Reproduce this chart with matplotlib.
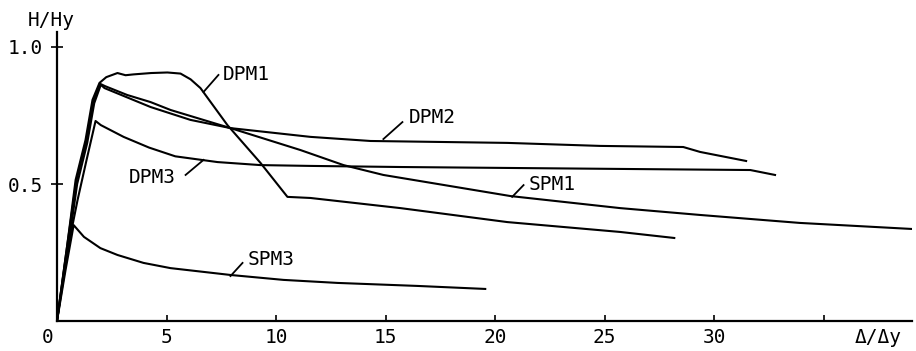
import matplotlib
matplotlib.use("Agg")
import matplotlib.pyplot as plt

# ---- data ----
dpm1_x = [0, 0.44, 0.85, 1.30, 1.62, 1.94, 2.25, 2.76, 3.13, 3.49, 4.30, 5.04, 5.64, 6.10, 6.55, 7.78, 9.29, 10.52, 11.57, 15.68, 20.56, 25.71, 28.18]
dpm1_y = [0, 0.26, 0.515, 0.66, 0.807, 0.869, 0.89, 0.905, 0.897, 0.900, 0.905, 0.907, 0.903, 0.882, 0.850, 0.715, 0.577, 0.453, 0.449, 0.412, 0.361, 0.325, 0.303]

spm1_x = [0, 0.42, 0.88, 1.33, 1.66, 1.96, 2.20, 3.2, 4.27, 5.19, 7.92, 11.11, 13.08, 14.90, 20.70, 25.71, 29.36, 33.90, 39.0]
spm1_y = [0, 0.25, 0.51, 0.655, 0.80, 0.866, 0.857, 0.825, 0.799, 0.770, 0.704, 0.624, 0.569, 0.533, 0.456, 0.412, 0.387, 0.358, 0.336]

dpm2_x = [0, 0.46, 0.92, 1.38, 1.70, 2.00, 2.17, 4.27, 6.09, 7.92, 11.57, 14.31, 20.56, 24.80, 28.59, 29.36, 31.46]
dpm2_y = [0, 0.24, 0.50, 0.65, 0.795, 0.862, 0.850, 0.781, 0.734, 0.704, 0.672, 0.657, 0.650, 0.639, 0.635, 0.617, 0.584]

dpm3_x = [0, 0.39, 0.94, 1.35, 1.76, 2.00, 3.04, 4.20, 5.40, 7.33, 9.29, 11.57, 15.68, 25.70, 31.65, 32.78]
dpm3_y = [0, 0.223, 0.442, 0.588, 0.730, 0.715, 0.672, 0.633, 0.601, 0.580, 0.569, 0.566, 0.562, 0.555, 0.551, 0.533]

spm3_x = [0, 0.39, 0.76, 1.23, 1.98, 2.76, 3.95, 5.18, 7.92, 10.34, 12.80, 16.45, 19.55]
spm3_y = [0, 0.186, 0.350, 0.307, 0.266, 0.241, 0.212, 0.193, 0.168, 0.150, 0.139, 0.128, 0.117]

x_ticks = [5, 10, 15, 20, 25, 30, 35]
x_tick_labels = ["5", "10", "15", "20", "25", "30", ""]
y_ticks = [0.5, 1.0]
y_tick_labels = ["0.5", "1.0"]

FONT = "DejaVu Sans Mono"
FS = 14

fig = plt.figure(figsize=(9.16, 3.51), dpi=100)
ax = fig.add_axes([57 / 916, 30 / 351, (912 - 57) / 916, (321 - 32) / 351])
ax.set_xlim(0, (912 - 56.4) / 21.92)
ax.set_ylim(0, (321 - 32) / 274)

lw = 1.5
for xs, ys in [(dpm1_x, dpm1_y), (spm1_x, spm1_y), (dpm2_x, dpm2_y), (dpm3_x, dpm3_y), (spm3_x, spm3_y)]:
    ax.plot(xs, ys, color="black", lw=lw, solid_joinstyle="round")

for s in ["top", "right"]:
    ax.spines[s].set_visible(False)
for s in ["left", "bottom"]:
    ax.spines[s].set_linewidth(1.6)

ax.set_xticks(x_ticks)
ax.set_xticklabels(x_tick_labels, fontfamily=FONT, fontsize=FS)
ax.set_yticks(y_ticks)
ax.set_yticklabels(y_tick_labels, fontfamily=FONT, fontsize=FS)
ax.tick_params(axis="x", direction="in", length=4, width=1.2, pad=5)
ax.tick_params(axis="y", direction="inout", length=8, width=1.2, pad=6)

# curve labels with leader lines
labels = [
    ("DPM1", 8.66, 0.898, (7.37, 0.898), (6.69, 0.836)),
    ("DPM2", 17.14, 0.741, (15.77, 0.726), (14.90, 0.664)),
    ("SPM1", 22.61, 0.500, (21.30, 0.496), (20.78, 0.453)),
    ("DPM3", 4.36, 0.522, (5.87, 0.533), (6.69, 0.588)),
    ("SPM3", 9.79, 0.223, (8.47, 0.212), (7.92, 0.164)),
]
for txt, tx, ty, p0, p1 in labels:
    ax.text(tx, ty, txt, fontfamily=FONT, fontsize=FS, ha="center", va="center")
    ax.plot([p0[0], p1[0]], [p0[1], p1[1]], color="black", lw=1.3)

ax.text(-0.43, -0.062, "0", fontfamily=FONT, fontsize=FS, ha="center", va="center", clip_on=False)
ax.text(37.48, -0.062, "Δ/Δy", fontfamily=FONT, fontsize=FS, ha="center", va="center", clip_on=False)
ax.text(-0.25, 1.095, "H/Hy", fontfamily=FONT, fontsize=FS, ha="center", va="center", clip_on=False)

fig.savefig("out.png", dpi=100)
